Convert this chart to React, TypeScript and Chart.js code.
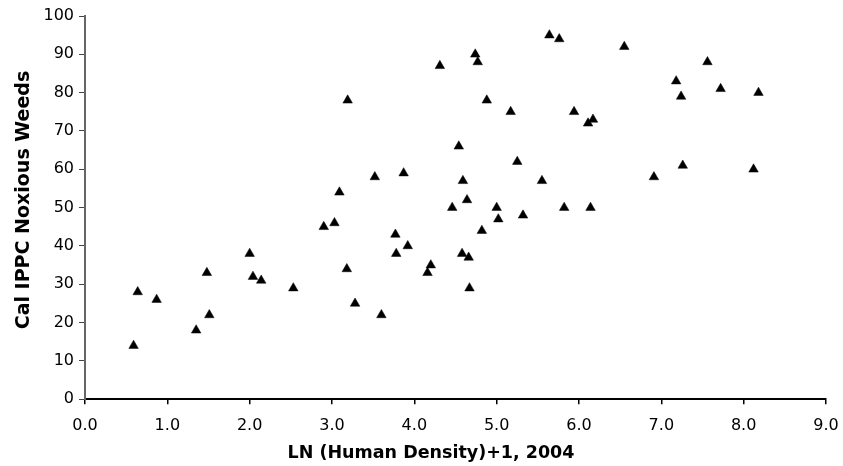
import React, { useEffect, useRef } from "react";
import { Chart, registerables } from "chart.js";

Chart.register(...registerables);

const xValues: number[] = [
  0.59, 0.64, 0.87, 1.35, 1.48, 1.51, 2.0, 2.04, 2.14, 2.53,
  2.9, 3.03, 3.09, 3.18, 3.19, 3.28, 3.52, 3.6, 3.77, 3.78,
  3.87, 3.92, 4.16, 4.2, 4.31, 4.46, 4.54, 4.59, 4.58, 4.64,
  4.66, 4.67, 4.74, 4.77, 4.82, 4.88, 5.0, 5.02, 5.17, 5.25,
  5.32, 5.55, 5.64, 5.76, 5.82, 5.94, 6.11, 6.14, 6.17, 6.55,
  6.91, 7.18, 7.24, 7.26, 7.56, 7.72, 8.12, 8.18,
];
const yValues: number[] = [
  14, 28, 26, 18, 33, 22, 38, 32, 31, 29,
  45, 46, 54, 34, 78, 25, 58, 22, 43, 38,
  59, 40, 33, 35, 87, 50, 66, 57, 38, 52,
  37, 29, 90, 88, 44, 78, 50, 47, 75, 62,
  48, 57, 95, 94, 50, 75, 72, 50, 73, 92,
  58, 83, 79, 61, 88, 81, 60, 80,
];
const xTitle = "LN (Human Density)+1, 2004";
const yTitle = "Cal IPPC Noxious Weeds";

export default function App() {
  const ref = useRef<HTMLCanvasElement | null>(null);
  useEffect(() => {
    if (!ref.current) return;
    const points = xValues.map((x, i) => ({ x, y: yValues[i] }));
    const titlePlugin = {
      id: "axisTitles",
      afterDraw(chart: any) {
        const ctx = chart.ctx;
        ctx.save();
        ctx.fillStyle = "#000";
        ctx.textAlign = "center";
        ctx.textBaseline = "middle";
        ctx.font = "bold 17.5px 'DejaVu Sans'";
        ctx.fillText(xTitle, 431, 453);
        ctx.font = "bold 19px 'DejaVu Sans'";
        ctx.translate(24, 200);
        ctx.rotate(-Math.PI / 2);
        ctx.fillText(yTitle, 0, 0);
        ctx.restore();
      },
    };
    const chart = new Chart(ref.current, {
      type: "scatter",
      data: {
        datasets: [
          {
            data: points,
            pointStyle: "triangle",
            pointRadius: 5.5,
            pointBorderWidth: 0.5,
            backgroundColor: "#000",
            borderColor: "#000",
          },
        ],
      },
      plugins: [titlePlugin],
      options: {
        animation: false,
        responsive: false,
        layout: { padding: { top: 16, right: 17, left: 0, bottom: 0 } },
        plugins: { legend: { display: false }, tooltip: { enabled: false } },
        scales: {
          x: {
            type: "linear",
            min: 0,
            max: 9,
            border: { display: true, color: "#000", width: 2 },
            grid: { drawOnChartArea: false, drawTicks: true, tickLength: 5, color: "#000", lineWidth: 1.5 },
            ticks: {
              stepSize: 1,
              color: "#000",
              padding: 12,
              maxRotation: 0,
              font: { family: "'DejaVu Sans'", size: 16 },
              callback: (v: any) => Number(v).toFixed(1),
            },
            afterFit: (s: any) => {
              s.height = 66.7;
              s.paddingLeft = 0;
              s.paddingRight = 0;
            },
          },
          y: {
            type: "linear",
            min: 0,
            max: 100,
            border: { display: true, color: "#666", width: 2 },
            grid: { drawOnChartArea: false, drawTicks: true, tickLength: 6, color: "#444", lineWidth: 1 },
            ticks: {
              stepSize: 10,
              color: "#000",
              padding: 5,
              font: { family: "'DejaVu Sans'", size: 16 },
            },
            afterFit: (s: any) => {
              s.width = 85;
              s.paddingTop = 0;
              s.paddingBottom = 0;
            },
          },
        },
      },
    });
    return () => chart.destroy();
  }, []);
  return (
    <div style={{ position: "absolute", left: 0, top: 0, width: 843, height: 466, background: "#fff" }}>
      <canvas ref={ref} width={843} height={466} style={{ width: 843, height: 466, display: "block" }} />
    </div>
  );
}
